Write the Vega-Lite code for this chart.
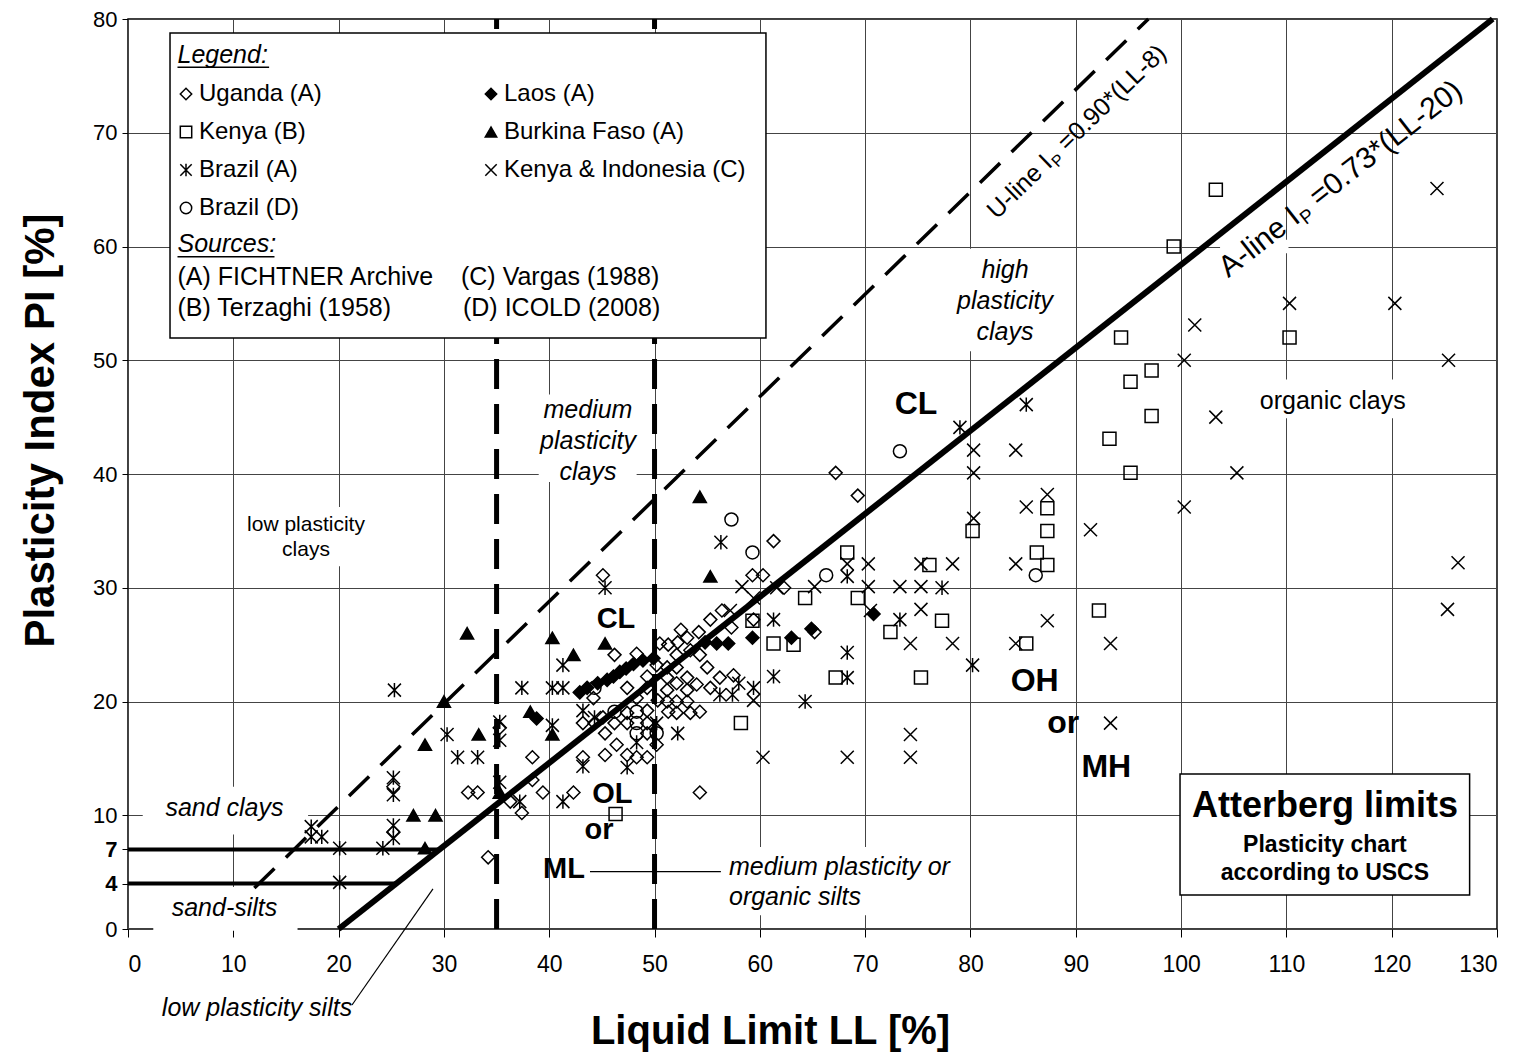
{
"$schema":"https://vega.github.io/schema/vega-lite/v6.json",
"width":1369,"height":910,
"autosize":{"type":"none"},
"padding":{"left":128,"top":19,"right":28,"bottom":130},
"background":"white",
"config":{
 "font":"Liberation Sans",
 "view":{"stroke":"black","strokeWidth":1.5},
 "axis":{"labelFont":"Liberation Sans","titleFont":"Liberation Sans","labelColor":"black","titleColor":"black","tickColor":"black","gridColor":"#444","gridWidth":1,"domain":false},
 "legend":{"orient":"none","legendX":46,"legendY":63,"columns":2,"labelFontSize":24,"labelFont":"Liberation Sans","labelColor":"black","symbolStrokeWidth":1.5,"symbolSize":130,"rowPadding":14,"columnPadding":157,"labelOffset":1,"padding":0,"labelLimit":400}
},
"datasets":{
"pts":[
{"x":67.2,"y":40.1,"s":"Uganda (A)"},{"x":69.3,"y":38.1,"s":"Uganda (A)"},{"x":61.3,"y":34.1,"s":"Uganda (A)"},{"x":59.3,"y":31.1,"s":"Uganda (A)"},{"x":60.3,"y":31.1,"s":"Uganda (A)"},{"x":62.3,"y":30,"s":"Uganda (A)"},{"x":45.1,"y":31.1,"s":"Uganda (A)"},{"x":56.4,"y":28,"s":"Uganda (A)"},{"x":55.3,"y":27.2,"s":"Uganda (A)"},{"x":54.2,"y":26.1,"s":"Uganda (A)"},{"x":59.4,"y":27.2,"s":"Uganda (A)"},{"x":65.2,"y":26.1,"s":"Uganda (A)"},{"x":54.3,"y":24.1,"s":"Uganda (A)"},{"x":56.2,"y":22.1,"s":"Uganda (A)"},{"x":34.2,"y":6.3,"s":"Uganda (A)"},{"x":54.3,"y":12,"s":"Uganda (A)"},{"x":37.4,"y":10.2,"s":"Uganda (A)"},{"x":36.3,"y":11.2,"s":"Uganda (A)"},{"x":32.3,"y":12,"s":"Uganda (A)"},{"x":33.2,"y":12,"s":"Uganda (A)"},{"x":38.4,"y":13.1,"s":"Uganda (A)"},{"x":39.4,"y":12,"s":"Uganda (A)"},{"x":42.3,"y":12,"s":"Uganda (A)"},{"x":43.2,"y":15.1,"s":"Uganda (A)"},{"x":38.4,"y":15.1,"s":"Uganda (A)"},{"x":44.2,"y":20.3,"s":"Uganda (A)"},{"x":43.2,"y":18.1,"s":"Uganda (A)"},{"x":45.1,"y":18.6,"s":"Uganda (A)"},{"x":46.2,"y":18.1,"s":"Uganda (A)"},{"x":47.4,"y":19,"s":"Uganda (A)"},{"x":49.3,"y":19.2,"s":"Uganda (A)"},{"x":47.4,"y":21.2,"s":"Uganda (A)"},{"x":48.3,"y":20.3,"s":"Uganda (A)"},{"x":49.3,"y":21.2,"s":"Uganda (A)"},{"x":45.3,"y":17.2,"s":"Uganda (A)"},{"x":46.4,"y":16.2,"s":"Uganda (A)"},{"x":47.4,"y":15.3,"s":"Uganda (A)"},{"x":45.3,"y":15.3,"s":"Uganda (A)"},{"x":48.3,"y":15.1,"s":"Uganda (A)"},{"x":49.3,"y":15.1,"s":"Uganda (A)"},{"x":50.2,"y":16.2,"s":"Uganda (A)"},{"x":49.3,"y":17.2,"s":"Uganda (A)"},{"x":46.2,"y":24.1,"s":"Uganda (A)"},{"x":48.3,"y":24.2,"s":"Uganda (A)"},{"x":49.3,"y":22.2,"s":"Uganda (A)"},{"x":51.3,"y":25,"s":"Uganda (A)"},{"x":52.2,"y":25.2,"s":"Uganda (A)"},{"x":53.4,"y":24.5,"s":"Uganda (A)"},{"x":51.2,"y":23,"s":"Uganda (A)"},{"x":52.1,"y":24.1,"s":"Uganda (A)"},{"x":53.1,"y":25.6,"s":"Uganda (A)"},{"x":51.2,"y":22.1,"s":"Uganda (A)"},{"x":52.1,"y":23,"s":"Uganda (A)"},{"x":53.1,"y":22.1,"s":"Uganda (A)"},{"x":51.2,"y":21,"s":"Uganda (A)"},{"x":52.1,"y":21.6,"s":"Uganda (A)"},{"x":53.1,"y":21,"s":"Uganda (A)"},{"x":54,"y":21.5,"s":"Uganda (A)"},{"x":51.2,"y":20,"s":"Uganda (A)"},{"x":52.1,"y":20,"s":"Uganda (A)"},{"x":53.1,"y":20,"s":"Uganda (A)"},{"x":53.4,"y":19,"s":"Uganda (A)"},{"x":52.1,"y":19,"s":"Uganda (A)"},{"x":50.3,"y":20.1,"s":"Uganda (A)"},{"x":51.3,"y":19.1,"s":"Uganda (A)"},{"x":54.3,"y":19.1,"s":"Uganda (A)"},{"x":55.3,"y":21.2,"s":"Uganda (A)"},{"x":44.3,"y":18.1,"s":"Uganda (A)"},{"x":47.4,"y":18.1,"s":"Uganda (A)"},{"x":49.3,"y":18.1,"s":"Uganda (A)"},{"x":35.3,"y":17.7,"s":"Uganda (A)"},{"x":25.2,"y":8.5,"s":"Uganda (A)"},{"x":25.2,"y":12.5,"s":"Uganda (A)"},{"x":57.5,"y":22.3,"s":"Uganda (A)"},{"x":50.2,"y":23.2,"s":"Uganda (A)"},{"x":50.5,"y":25.1,"s":"Uganda (A)"},{"x":55.0,"y":23.0,"s":"Uganda (A)"},{"x":52.5,"y":26.3,"s":"Uganda (A)"},{"x":57.3,"y":26.5,"s":"Uganda (A)"},
{"x":38.8,"y":18.5,"s":"Laos (A)"},{"x":42.9,"y":20.8,"s":"Laos (A)"},{"x":43.6,"y":21.2,"s":"Laos (A)"},{"x":44.6,"y":21.6,"s":"Laos (A)"},{"x":45.5,"y":21.9,"s":"Laos (A)"},{"x":46.1,"y":22.2,"s":"Laos (A)"},{"x":46.7,"y":22.6,"s":"Laos (A)"},{"x":47.3,"y":22.9,"s":"Laos (A)"},{"x":48,"y":23.3,"s":"Laos (A)"},{"x":48.9,"y":23.6,"s":"Laos (A)"},{"x":49.9,"y":23.8,"s":"Laos (A)"},{"x":54.8,"y":25.2,"s":"Laos (A)"},{"x":55.9,"y":25.1,"s":"Laos (A)"},{"x":57,"y":25.1,"s":"Laos (A)"},{"x":59.3,"y":25.6,"s":"Laos (A)"},{"x":63,"y":25.6,"s":"Laos (A)"},{"x":64.9,"y":26.4,"s":"Laos (A)"},{"x":70.8,"y":27.7,"s":"Laos (A)"},
{"x":103.3,"y":65,"s":"Kenya (B)"},{"x":99.3,"y":60,"s":"Kenya (B)"},{"x":94.3,"y":52,"s":"Kenya (B)"},{"x":110.3,"y":52,"s":"Kenya (B)"},{"x":95.2,"y":48.1,"s":"Kenya (B)"},{"x":97.2,"y":49.1,"s":"Kenya (B)"},{"x":97.2,"y":45.1,"s":"Kenya (B)"},{"x":93.2,"y":43.1,"s":"Kenya (B)"},{"x":95.2,"y":40.1,"s":"Kenya (B)"},{"x":80.2,"y":35,"s":"Kenya (B)"},{"x":87.3,"y":37,"s":"Kenya (B)"},{"x":87.3,"y":35,"s":"Kenya (B)"},{"x":86.3,"y":33.1,"s":"Kenya (B)"},{"x":87.3,"y":32,"s":"Kenya (B)"},{"x":92.2,"y":28,"s":"Kenya (B)"},{"x":85.3,"y":25.1,"s":"Kenya (B)"},{"x":76.1,"y":32,"s":"Kenya (B)"},{"x":77.3,"y":27.1,"s":"Kenya (B)"},{"x":75.3,"y":22.1,"s":"Kenya (B)"},{"x":72.4,"y":26.1,"s":"Kenya (B)"},{"x":69.3,"y":29.1,"s":"Kenya (B)"},{"x":68.3,"y":33.1,"s":"Kenya (B)"},{"x":67.2,"y":22.1,"s":"Kenya (B)"},{"x":64.3,"y":29.1,"s":"Kenya (B)"},{"x":61.3,"y":25.1,"s":"Kenya (B)"},{"x":63.2,"y":25,"s":"Kenya (B)"},{"x":59.3,"y":27.1,"s":"Kenya (B)"},{"x":58.2,"y":18.1,"s":"Kenya (B)"},{"x":46.3,"y":10.1,"s":"Kenya (B)"},
{"x":54.3,"y":38,"s":"Burkina Faso (A)"},{"x":32.2,"y":26,"s":"Burkina Faso (A)"},{"x":40.3,"y":25.6,"s":"Burkina Faso (A)"},{"x":42.3,"y":24.1,"s":"Burkina Faso (A)"},{"x":45.3,"y":25.1,"s":"Burkina Faso (A)"},{"x":55.3,"y":31,"s":"Burkina Faso (A)"},{"x":30,"y":20,"s":"Burkina Faso (A)"},{"x":38.2,"y":19.1,"s":"Burkina Faso (A)"},{"x":33.3,"y":17.1,"s":"Burkina Faso (A)"},{"x":28.2,"y":16.2,"s":"Burkina Faso (A)"},{"x":40.3,"y":17.1,"s":"Burkina Faso (A)"},{"x":35.3,"y":12,"s":"Burkina Faso (A)"},{"x":27.1,"y":10,"s":"Burkina Faso (A)"},{"x":29.2,"y":10,"s":"Burkina Faso (A)"},{"x":28.2,"y":7.1,"s":"Burkina Faso (A)"},
{"x":17.4,"y":9,"s":"Brazil (A)"},{"x":17.4,"y":8.1,"s":"Brazil (A)"},{"x":18.4,"y":8.1,"s":"Brazil (A)"},{"x":20.1,"y":7.1,"s":"Brazil (A)"},{"x":20.1,"y":4.1,"s":"Brazil (A)"},{"x":24.2,"y":7.1,"s":"Brazil (A)"},{"x":25.2,"y":9.1,"s":"Brazil (A)"},{"x":25.2,"y":8.0,"s":"Brazil (A)"},{"x":25.2,"y":13.3,"s":"Brazil (A)"},{"x":25.2,"y":11.8,"s":"Brazil (A)"},{"x":25.3,"y":21,"s":"Brazil (A)"},{"x":30.3,"y":17.1,"s":"Brazil (A)"},{"x":31.3,"y":15.1,"s":"Brazil (A)"},{"x":33.2,"y":15.1,"s":"Brazil (A)"},{"x":35.3,"y":18.2,"s":"Brazil (A)"},{"x":35.3,"y":16.6,"s":"Brazil (A)"},{"x":35.3,"y":12.9,"s":"Brazil (A)"},{"x":37.4,"y":21.2,"s":"Brazil (A)"},{"x":40.3,"y":21.2,"s":"Brazil (A)"},{"x":41.3,"y":21.2,"s":"Brazil (A)"},{"x":41.3,"y":23.2,"s":"Brazil (A)"},{"x":40.3,"y":17.9,"s":"Brazil (A)"},{"x":37.2,"y":11.2,"s":"Brazil (A)"},{"x":41.3,"y":11.2,"s":"Brazil (A)"},{"x":43.2,"y":19.2,"s":"Brazil (A)"},{"x":43.2,"y":14.3,"s":"Brazil (A)"},{"x":47.4,"y":14.2,"s":"Brazil (A)"},{"x":48.3,"y":16.4,"s":"Brazil (A)"},{"x":50.2,"y":18.1,"s":"Brazil (A)"},{"x":52.2,"y":17.2,"s":"Brazil (A)"},{"x":45.3,"y":30,"s":"Brazil (A)"},{"x":56.3,"y":34,"s":"Brazil (A)"},{"x":56.2,"y":20.6,"s":"Brazil (A)"},{"x":57.4,"y":20.6,"s":"Brazil (A)"},{"x":58,"y":21.6,"s":"Brazil (A)"},{"x":59.4,"y":21.2,"s":"Brazil (A)"},{"x":61.3,"y":27.2,"s":"Brazil (A)"},{"x":61.3,"y":22.2,"s":"Brazil (A)"},{"x":64.3,"y":20,"s":"Brazil (A)"},{"x":68.3,"y":24.3,"s":"Brazil (A)"},{"x":68.3,"y":22.1,"s":"Brazil (A)"},{"x":68.3,"y":31,"s":"Brazil (A)"},{"x":73.3,"y":27.2,"s":"Brazil (A)"},{"x":77.3,"y":30,"s":"Brazil (A)"},{"x":80.2,"y":23.2,"s":"Brazil (A)"},{"x":79,"y":44.1,"s":"Brazil (A)"},{"x":85.3,"y":46.1,"s":"Brazil (A)"},{"x":44.3,"y":18.6,"s":"Brazil (A)"},
{"x":124.3,"y":65.1,"s":"Kenya & Indonesia (C)"},{"x":110.3,"y":55,"s":"Kenya & Indonesia (C)"},{"x":120.3,"y":55,"s":"Kenya & Indonesia (C)"},{"x":101.3,"y":53.1,"s":"Kenya & Indonesia (C)"},{"x":100.3,"y":50,"s":"Kenya & Indonesia (C)"},{"x":125.4,"y":50,"s":"Kenya & Indonesia (C)"},{"x":103.3,"y":45,"s":"Kenya & Indonesia (C)"},{"x":105.3,"y":40.1,"s":"Kenya & Indonesia (C)"},{"x":100.3,"y":37.1,"s":"Kenya & Indonesia (C)"},{"x":91.4,"y":35.1,"s":"Kenya & Indonesia (C)"},{"x":126.3,"y":32.2,"s":"Kenya & Indonesia (C)"},{"x":125.3,"y":28.1,"s":"Kenya & Indonesia (C)"},{"x":93.3,"y":25.1,"s":"Kenya & Indonesia (C)"},{"x":93.3,"y":18.1,"s":"Kenya & Indonesia (C)"},{"x":87.3,"y":38.2,"s":"Kenya & Indonesia (C)"},{"x":85.3,"y":37.1,"s":"Kenya & Indonesia (C)"},{"x":84.3,"y":32.1,"s":"Kenya & Indonesia (C)"},{"x":70.3,"y":32.1,"s":"Kenya & Indonesia (C)"},{"x":75.3,"y":32.1,"s":"Kenya & Indonesia (C)"},{"x":78.3,"y":32.1,"s":"Kenya & Indonesia (C)"},{"x":70.3,"y":30.1,"s":"Kenya & Indonesia (C)"},{"x":73.3,"y":30.1,"s":"Kenya & Indonesia (C)"},{"x":75.3,"y":30.1,"s":"Kenya & Indonesia (C)"},{"x":70.5,"y":28,"s":"Kenya & Indonesia (C)"},{"x":75.3,"y":28.1,"s":"Kenya & Indonesia (C)"},{"x":74.3,"y":25.1,"s":"Kenya & Indonesia (C)"},{"x":78.3,"y":25.1,"s":"Kenya & Indonesia (C)"},{"x":84.3,"y":25.1,"s":"Kenya & Indonesia (C)"},{"x":87.3,"y":27.1,"s":"Kenya & Indonesia (C)"},{"x":74.3,"y":17.1,"s":"Kenya & Indonesia (C)"},{"x":74.3,"y":15.1,"s":"Kenya & Indonesia (C)"},{"x":68.3,"y":15.1,"s":"Kenya & Indonesia (C)"},{"x":60.3,"y":15.1,"s":"Kenya & Indonesia (C)"},{"x":80.3,"y":40.1,"s":"Kenya & Indonesia (C)"},{"x":80.3,"y":42.1,"s":"Kenya & Indonesia (C)"},{"x":84.3,"y":42.1,"s":"Kenya & Indonesia (C)"},{"x":80.3,"y":36.1,"s":"Kenya & Indonesia (C)"},{"x":68.3,"y":32.1,"s":"Kenya & Indonesia (C)"},{"x":58.3,"y":30.1,"s":"Kenya & Indonesia (C)"},{"x":65.2,"y":30.1,"s":"Kenya & Indonesia (C)"},{"x":61.6,"y":30,"s":"Kenya & Indonesia (C)"},{"x":57.2,"y":28,"s":"Kenya & Indonesia (C)"},{"x":59.4,"y":29.1,"s":"Kenya & Indonesia (C)"},{"x":59.4,"y":20.1,"s":"Kenya & Indonesia (C)"},
{"x":73.3,"y":42,"s":"Brazil (D)"},{"x":57.3,"y":36,"s":"Brazil (D)"},{"x":59.3,"y":33.1,"s":"Brazil (D)"},{"x":66.3,"y":31.1,"s":"Brazil (D)"},{"x":86.2,"y":31.1,"s":"Brazil (D)"},{"x":44.3,"y":21.2,"s":"Brazil (D)"},{"x":46.2,"y":19.1,"s":"Brazil (D)"},{"x":48.3,"y":19.1,"s":"Brazil (D)"},{"x":48.3,"y":18.1,"s":"Brazil (D)"},{"x":48.3,"y":17.2,"s":"Brazil (D)"},{"x":50.2,"y":17.2,"s":"Brazil (D)"}
]
},
"encoding":{
 "x":{"field":"x","type":"quantitative","scale":{"domain":[0,130],"nice":false,"zero":false},
  "axis":{"values":[0,10,20,30,40,50,60,70,80,90,100,110,120,130],"title":"Liquid Limit LL [%]","labelFontSize":23,"tickSize":8,"labelPadding":16,"titleFontSize":40,"titleFontWeight":"bold","titleX":642,"titleY":114,"titleBaseline":"alphabetic","grid":true}},
 "y":{"field":"y","type":"quantitative","scale":{"domain":[0,80],"nice":false,"zero":false},
  "axis":{"values":[0,4,7,10,20,30,40,50,60,70,80],"title":"Plasticity Index PI [%]","labelFontSize":22,"tickSize":6,"labelPadding":5,
   "labelFontWeight":{"condition":{"test":"datum.value === 4 || datum.value === 7","value":"bold"},"value":"normal"},
   "gridOpacity":{"condition":{"test":"datum.value === 4 || datum.value === 7","value":0},"value":1},
   "titleFontSize":42,"titleFontWeight":"bold","titleX":-66,"titleY":411,"titleAngle":270,"titleBaseline":"bottom","grid":true}}
},
"layer":[
 {"data":{"values":[
  {"x":11.0,"x2":22.7,"y":31.9,"y2":37.1},
  {"x":39.0,"x2":48.3,"y":39.3,"y2":47.0},
  {"x":78.6,"x2":88.0,"y":50.8,"y2":59.8},
  {"x":107.3,"x2":121.5,"y":44.9,"y2":48.3},
  {"x":1.4,"x2":17.1,"y":8.3,"y2":12.5},
  {"x":2.4,"x2":16.1,"y":-0.15,"y2":3.7},
  {"x":56.9,"x2":79.0,"y":1.2,"y2":7.2},
  {"x":103.7,"x2":110.2,"y":59.4,"y2":60.6}]},
  "mark":{"type":"rect","fill":"white","stroke":null},
  "encoding":{"x2":{"field":"x2"},"y2":{"field":"y2"}}},
 {"data":{"values":[{"x":20,"y":0,"x2":129.59,"y2":80}]},
  "mark":{"type":"rule","color":"black","strokeWidth":6},
  "encoding":{"x2":{"field":"x2"},"y2":{"field":"y2"}}},
 {"data":{"values":[{"x":12,"y":3.6,"x2":96.89,"y2":80}]},
  "mark":{"type":"rule","color":"black","strokeWidth":3.5,"strokeDash":[28,16]},
  "encoding":{"x2":{"field":"x2"},"y2":{"field":"y2"}}},
 {"data":{"values":[{"x":35,"y":0,"x2":35,"y2":80},{"x":50,"y":0,"x2":50,"y2":80}]},
  "mark":{"type":"rule","color":"black","strokeWidth":5,"strokeDash":[30,15]},
  "encoding":{"x2":{"field":"x2"},"y2":{"field":"y2"}}},
 {"data":{"values":[{"x":0,"y":7,"x2":29.59,"y2":7},{"x":0,"y":4,"x2":25.48,"y2":4}]},
  "mark":{"type":"rule","color":"black","strokeWidth":4},
  "encoding":{"x2":{"field":"x2"},"y2":{"field":"y2"}}},
 {"data":{"values":[{"x":43.87,"y":5.05,"x2":56.3,"y2":5.05},{"x":28.96,"y":3.52,"x2":21.27,"y2":-6.68}]},
  "mark":{"type":"rule","color":"black","strokeWidth":1.2},
  "encoding":{"x2":{"field":"x2"},"y2":{"field":"y2"}}},
 {"data":{"values":[{"x":3.99,"x2":60.58,"y":51.96,"y2":78.77},{"x":99.9,"x2":127.4,"y":2.99,"y2":13.63}]},
  "mark":{"type":"rect","fill":"white","stroke":"black","strokeWidth":1.5},
  "encoding":{"x2":{"field":"x2"},"y2":{"field":"y2"}}},
 {"data":{"values":[{"x":4.7,"y":75.75,"x2":13.4,"y2":75.75},{"x":4.7,"y":59.1,"x2":13.91,"y2":59.1}]},
  "mark":{"type":"rule","color":"black","strokeWidth":1.5},
  "encoding":{"x2":{"field":"x2"},"y2":{"field":"y2"}}},
 {"data":{"name":"pts"},
  "mark":{"type":"point","filled":true,"strokeWidth":1.5,"size":169,"opacity":1},
  "encoding":{
   "shape":{"field":"s","type":"nominal",
    "scale":{"domain":["Uganda (A)","Kenya (B)","Brazil (A)","Brazil (D)","Laos (A)","Burkina Faso (A)","Kenya & Indonesia (C)"],
     "range":["diamond","square","M-1,-1L1,1M1,-1L-1,1M0,-1.1L0,1.1","circle","diamond","triangle-up","M-1,-1L1,1M1,-1L-1,1"]},
    "legend":{"title":null}},
   "fill":{"field":"s","type":"nominal",
    "scale":{"domain":["Uganda (A)","Kenya (B)","Brazil (A)","Brazil (D)","Laos (A)","Burkina Faso (A)","Kenya & Indonesia (C)"],
     "range":["transparent","transparent","transparent","transparent","black","black","transparent"]},
    "legend":{"title":null}},
   "stroke":{"field":"s","type":"nominal",
    "scale":{"domain":["Uganda (A)","Kenya (B)","Brazil (A)","Brazil (D)","Laos (A)","Burkina Faso (A)","Kenya & Indonesia (C)"],
     "range":["black","black","black","black","black","black","black"]},
    "legend":{"title":null}}
  }},
 {"data":{"values":[{"x":16.9,"y":35.0,"t":"low plasticity\nclays"}]},
  "mark":{"type":"text","font":"Liberation Sans","fontSize":21,"color":"black","align":"center","baseline":"alphabetic","lineBreak":"\n","lineHeight":25},
  "encoding":{"text":{"field":"t"}}},
 {"data":{"values":[{"x":43.68,"y":44.9,"t":"medium\nplasticity\nclays"},{"x":83.28,"y":57.2,"t":"high\nplasticity\nclays"}]},
  "mark":{"type":"text","font":"Liberation Sans","fontSize":25,"fontStyle":"italic","color":"black","align":"center","baseline":"alphabetic","lineBreak":"\n","lineHeight":31},
  "encoding":{"text":{"field":"t"}}},
 {"data":{"values":[{"x":9.16,"y":9.93,"t":"sand clays"},{"x":9.16,"y":1.14,"t":"sand-silts"},{"x":12.25,"y":-7.65,"t":"low plasticity silts"}]},
  "mark":{"type":"text","font":"Liberation Sans","fontSize":25,"fontStyle":"italic","color":"black","align":"center","baseline":"alphabetic"},
  "encoding":{"text":{"field":"t"}}},
 {"data":{"values":[{"x":57.07,"y":4.75,"t":"medium plasticity or\norganic silts"}]},
  "mark":{"type":"text","font":"Liberation Sans","fontSize":25,"fontStyle":"italic","color":"black","align":"left","baseline":"alphabetic","lineBreak":"\n","lineHeight":30},
  "encoding":{"text":{"field":"t"}}},
 {"data":{"values":[{"x":114.4,"y":45.7,"t":"organic clays"}]},
  "mark":{"type":"text","font":"Liberation Sans","fontSize":25,"color":"black","align":"center","baseline":"alphabetic"},
  "encoding":{"text":{"field":"t"}}},
 {"data":{"values":[{"x":74.83,"y":45.3,"t":"CL"},{"x":86.1,"y":20.9,"t":"OH"},{"x":88.8,"y":17.2,"t":"or"},{"x":92.9,"y":13.4,"t":"MH"}]},
  "mark":{"type":"text","font":"Liberation Sans","fontSize":32,"fontWeight":"bold","color":"black","align":"center","baseline":"alphabetic"},
  "encoding":{"text":{"field":"t"}}},
 {"data":{"values":[{"x":46.34,"y":26.46,"t":"CL"},{"x":46.0,"y":11.08,"t":"OL"},{"x":44.73,"y":7.9,"t":"or"},{"x":41.4,"y":4.48,"t":"ML"}]},
  "mark":{"type":"text","font":"Liberation Sans","fontSize":29,"fontWeight":"bold","color":"black","align":"center","baseline":"alphabetic"},
  "encoding":{"text":{"field":"t"}}},
 {"data":{"values":[{"x":4.7,"y":76.1,"t":"Legend:"},{"x":4.7,"y":59.5,"t":"Sources:"}]},
  "mark":{"type":"text","font":"Liberation Sans","fontSize":25,"fontStyle":"italic","color":"black","align":"left","baseline":"alphabetic"},
  "encoding":{"text":{"field":"t"}}},
 {"data":{"values":[{"x":4.7,"y":56.6,"t":"(A) FICHTNER Archive"},{"x":4.7,"y":53.9,"t":"(B) Terzaghi (1958)"},{"x":31.62,"y":56.6,"t":"(C) Vargas (1988)"},{"x":31.81,"y":53.9,"t":"(D) ICOLD (2008)"}]},
  "mark":{"type":"text","font":"Liberation Sans","fontSize":25,"color":"black","align":"left","baseline":"alphabetic"},
  "encoding":{"text":{"field":"t"}}},
 {"data":{"values":[{"x":113.66,"y":9.85,"t":"Atterberg limits"}]},
  "mark":{"type":"text","font":"Liberation Sans","fontSize":36,"fontWeight":"bold","color":"black","align":"center","baseline":"alphabetic"},
  "encoding":{"text":{"field":"t"}}},
 {"data":{"values":[{"x":113.66,"y":6.77,"t":"Plasticity chart"},{"x":113.66,"y":4.31,"t":"according to USCS"}]},
  "mark":{"type":"text","font":"Liberation Sans","fontSize":23,"fontWeight":"bold","color":"black","align":"center","baseline":"alphabetic"},
  "encoding":{"text":{"field":"t"}}},
 {"data":{"values":[{"x":82.49,"y":62.33}]},
  "mark":{"type":"text","text":"U-line I","font":"Liberation Sans","fontSize":25,"color":"black","align":"left","baseline":"alphabetic","angle":316},
  "encoding":{}},
 {"data":{"values":[{"x":82.49,"y":62.33}]},
  "mark":{"type":"text","text":"P","font":"Liberation Sans","fontSize":16,"color":"black","align":"left","baseline":"alphabetic","angle":316,"dx":80,"dy":5},
  "encoding":{}},
 {"data":{"values":[{"x":82.49,"y":62.33}]},
  "mark":{"type":"text","text":"=0.90*(LL-8)","font":"Liberation Sans","fontSize":25,"color":"black","align":"left","baseline":"alphabetic","angle":316,"dx":98},
  "encoding":{}},
 {"data":{"values":[{"x":104.48,"y":57.2}]},
  "mark":{"type":"text","text":"A-line I","font":"Liberation Sans","fontSize":30,"color":"black","align":"left","baseline":"alphabetic","angle":322},
  "encoding":{}},
 {"data":{"values":[{"x":104.48,"y":57.2}]},
  "mark":{"type":"text","text":"P","font":"Liberation Sans","fontSize":19,"color":"black","align":"left","baseline":"alphabetic","angle":322,"dx":94,"dy":6},
  "encoding":{}},
 {"data":{"values":[{"x":104.48,"y":57.2}]},
  "mark":{"type":"text","text":"=0.73*(LL-20)","font":"Liberation Sans","fontSize":30,"color":"black","align":"left","baseline":"alphabetic","angle":322,"dx":115},
  "encoding":{}}
]
}
